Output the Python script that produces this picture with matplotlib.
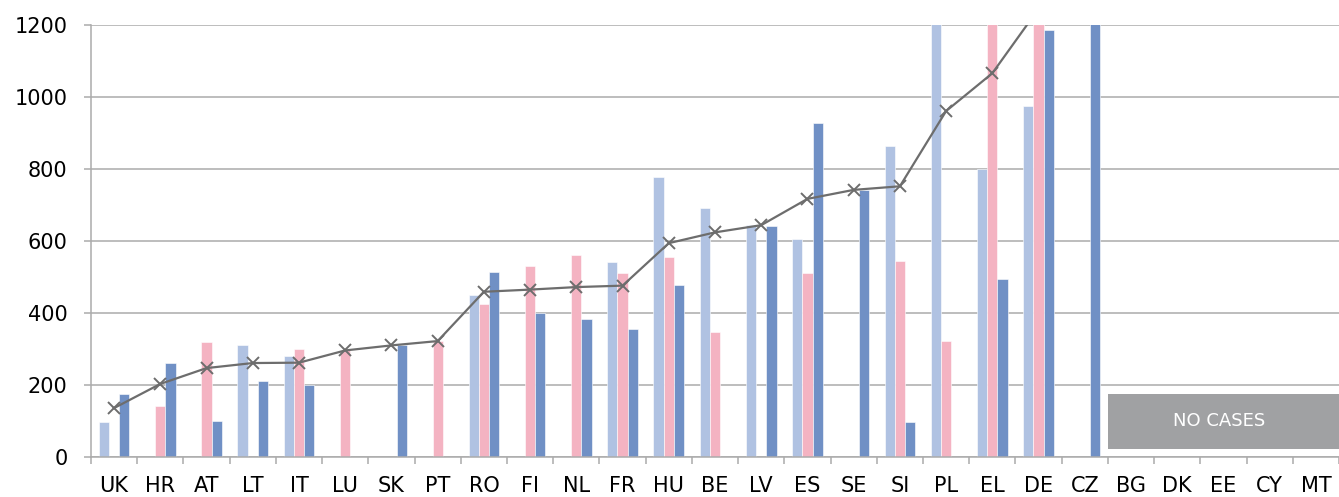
import numpy as np
import matplotlib
matplotlib.use("Agg")
import matplotlib.pyplot as plt
from matplotlib.patches import Rectangle

countries = ["UK", "HR", "AT", "LT", "IT", "LU", "SK", "PT", "RO", "FI", "NL", "FR", "HU",
             "BE", "LV", "ES", "SE", "SI", "PL", "EL", "DE", "CZ", "BG", "DK", "EE", "CY", "MT"]

# three bar series (0 = no bar); values above 1200 run off the top of the chart
series_light = [97, 0, 0, 310, 280, 0, 0, 0, 450, 0, 0, 543, 777,
                691, 645, 605, 0, 865, 1500, 799, 976, 0, 0, 0, 0, 0, 0]
series_pink = [0, 141, 320, 0, 300, 296, 0, 322, 425, 530, 561, 510, 556,
               348, 0, 510, 0, 545, 323, 1500, 1500, 0, 0, 0, 0, 0, 0]
series_dark = [174, 261, 100, 210, 199, 0, 312, 0, 514, 400, 382, 356, 477,
               0, 642, 929, 742, 97, 0, 494, 1187, 1500, 0, 0, 0, 0, 0]
# line series
line_values = [136, 203, 247, 261, 262, 296, 310, 322, 459, 465, 472, 476, 594,
               624, 644, 717, 742, 752, 961, 1066, 1245, 1500,
               np.nan, np.nan, np.nan, np.nan, np.nan]

no_cases_label = "NO CASES"

COL_LIGHT = "#b0c2e2"
COL_PINK = "#f4b3c2"
COL_DARK = "#7090c5"
COL_LINE = "#6d6d6d"
COL_GRID = "#ababab"


def main():
    fig = plt.figure(figsize=(13.39, 4.97), dpi=100)
    ax = fig.add_axes([91 / 1339, 1 - 457 / 497, 1 - 91 / 1339, (457 - 25) / 497])

    x = np.arange(len(countries))
    w = 0.221
    ax.bar(x - w, series_light, w, color=COL_LIGHT, edgecolor="white", lw=0.4, zorder=2)
    ax.bar(x, series_pink, w, color=COL_PINK, edgecolor="white", lw=0.4, zorder=2)
    ax.bar(x + w, series_dark, w, color=COL_DARK, edgecolor="white", lw=0.4, zorder=2)
    ax.plot(x, line_values, color=COL_LINE, lw=1.6, marker="x", ms=8, mew=1.4, zorder=3)

    # grey "no cases" box over the last five countries
    ax.add_patch(Rectangle((21.5, 23), 6, 152, facecolor="#a0a1a3", edgecolor="none", zorder=4))
    ax.text(23.9, 99, no_cases_label, color="white", fontsize=13,
            ha="center", va="center", zorder=5)

    ax.set_ylim(0, 1200)
    ax.set_xlim(-0.5, 26.28)
    ax.set_yticks(range(0, 1201, 200))
    ax.grid(axis="y", color=COL_GRID, lw=1.1, zorder=0)
    ax.set_axisbelow(True)

    ax.set_xticks(x)
    ax.set_xticklabels(countries)
    ax.set_xticks(np.arange(-0.5, len(countries), 1), minor=True)
    ax.tick_params(axis="x", which="major", length=0, pad=14, labelsize=15)
    ax.tick_params(axis="x", which="minor", length=5, width=1.1, color=COL_GRID)
    ax.tick_params(axis="y", length=5, width=1.1, color=COL_GRID, pad=12, labelsize=15)

    for side in ["top", "right"]:
        ax.spines[side].set_visible(False)
    for side in ["left", "bottom"]:
        ax.spines[side].set_color(COL_GRID)
        ax.spines[side].set_linewidth(1.1)

    fig.savefig("out.png", dpi=100)


if __name__ == "__main__":
    main()
